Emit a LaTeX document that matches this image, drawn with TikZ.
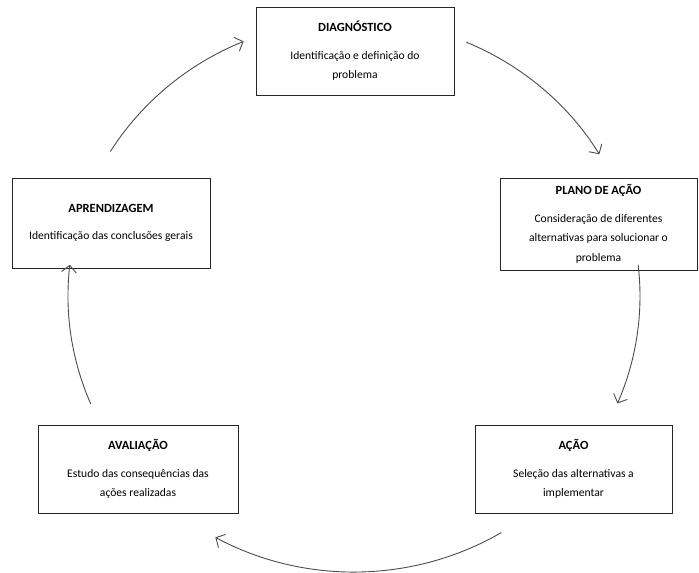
\documentclass[tikz,border=0pt]{standalone}
\usepackage{fontspec}
\setmainfont{Carlito}
\usepackage{tikz}
\usetikzlibrary{arrows.meta}
\newcommand{\titulo}[1]{{\fontsize{12.5}{19.5}\selectfont\bfseries #1}}
\begin{document}
\begin{tikzpicture}[x=1pt,y=-1pt]
		\tikzstyle{every node}+=[inner sep=0pt]
		\tikzstyle{etapa}=[draw=black!85, line width=0.8pt, align=center, font=\fontsize{11.6}{19.5}\selectfont]
		\tikzstyle{ciclo}=[draw=black!70, line width=0.9pt, -{Straight Barb[length=7pt,width=15pt]}]
		\useasboundingbox (0,0) rectangle (699,573);
		\node [etapa, minimum width=198pt, minimum height=88pt] (diag) at (355,51)
			{\titulo{DIAGNÓSTICO}\\[8pt]Identificação e definição do\\problema};
		\node [etapa, minimum width=197pt, minimum height=92pt] (plano) at (598.5,224)
			{\titulo{PLANO DE AÇÃO}\\[8pt]Consideração de diferentes\\alternativas para solucionar o\\problema};
		\node [etapa, minimum width=197pt, minimum height=88pt] (acao) at (573.5,469)
			{\titulo{AÇÃO}\\[8pt]Seleção das alternativas a\\implementar};
		\node [etapa, minimum width=200pt, minimum height=88pt] (aval) at (138,469)
			{\titulo{AVALIAÇÃO}\\[8pt]Estudo das consequências das\\ações realizadas};
		\node [etapa, minimum width=198pt, minimum height=90pt] (aprend) at (111,223)
			{\titulo{APRENDIZAGEM}\\[8pt]Identificação das conclusões gerais};
		\coordinate (c) at (354,296);
		\coordinate (a1) at ([shift={(-148.4:286 and 276)}]c);
		\coordinate (a2) at ([shift={(-66.9:286 and 276)}]c);
		\coordinate (a3) at ([shift={(-6.5:286 and 276)}]c);
		\coordinate (a4) at ([shift={(59:286 and 276)}]c);
		\coordinate (a5) at ([shift={(157:286 and 276)}]c);
		\draw [ciclo] (a1) arc [start angle=-148.4, end angle=-112.7, x radius=286, y radius=276];
		\draw [ciclo] (a2) arc [start angle=-66.9, end angle=-30.9, x radius=286, y radius=276];
		\draw [ciclo] (a3) arc [start angle=-6.5, end angle=22.9, x radius=286, y radius=276];
		\draw [ciclo] (a4) arc [start angle=59, end angle=119, x radius=286, y radius=276];
		\draw [ciclo] (a5) arc [start angle=157, end angle=186.5, x radius=286, y radius=276];
\end{tikzpicture}
\end{document}
